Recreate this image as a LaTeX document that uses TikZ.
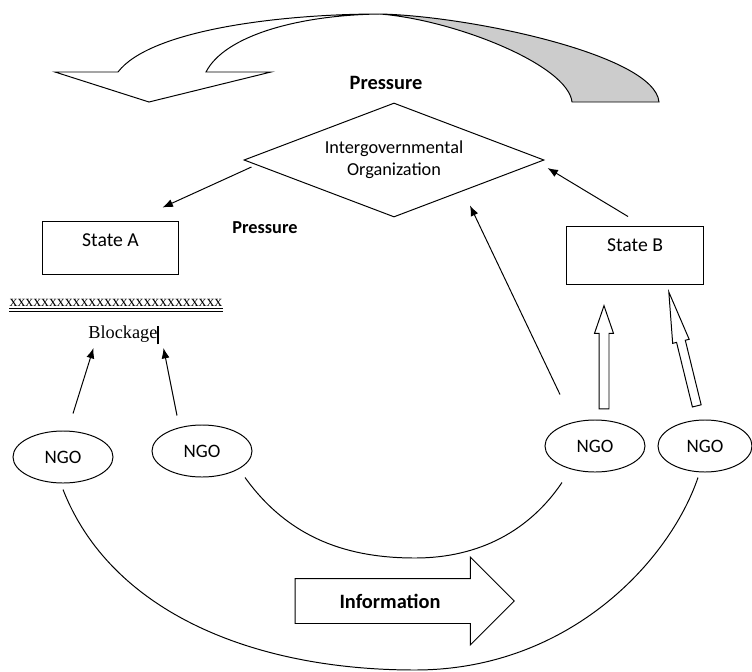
\documentclass[tikz,border=0pt]{standalone}
\usepackage{fontspec}
\setmainfont{Carlito}
\newfontfamily\bookfont{Liberation Serif}
\usetikzlibrary{shapes.geometric,shapes.arrows,arrows.meta}

\begin{document}
\begin{tikzpicture}[x=0.025cm,y=-0.025cm,line width=0.7pt,
	ngo/.style={ellipse,draw=black,minimum width=2.5cm,minimum height=1.3cm,inner sep=0pt,font=\fontsize{13.5}{15}\selectfont},
	statebox/.style={rectangle,draw=black,minimum width=3.4cm,font=\fontsize{14}{16}\selectfont},
	pointer/.style={-{Latex[length=2.6mm,width=2mm]}},
	hollow/.style={single arrow,draw=black,fill=white,inner xsep=0pt,single arrow head indent=0pt},
	bold/.style={font=\bfseries\fontsize{#1}{#1}\selectfont}]
		\useasboundingbox (0,0) rectangle (752,672);

		% twisted arrow on top
		\fill[gray!40] (380,14) .. controls (470,16) and (655,55) .. (659,102) -- (572,102) .. controls (568,65) and (455,20) .. (380,14) -- cycle;
		\draw (55,72) -- (118,72) .. controls (150,30) and (280,14) .. (380,14) .. controls (470,16) and (655,55) .. (659,102) -- (572,102) .. controls (568,65) and (455,20) .. (380,14) .. controls (300,15) and (225,35) .. (206,72) -- (271,72) -- (149,102) -- cycle;
		\node[bold=14.5] (toppress) at (386,83) {Pressure};

		\node[diamond,draw=black,minimum width=7.5cm,minimum height=2.85cm,shape aspect=2.6,inner sep=1pt,align=center,font=\fontsize{13}{15.6}\selectfont] (igo) at (394,160) {Intergovernmental\\Organization};

		\node[statebox,minimum width=3.375cm,minimum height=1.325cm,text depth=0.375cm] (stateA) at (110.5,247.5) {State A};
		\node[statebox,minimum height=1.45cm,text depth=0.5cm] (stateB) at (635,255) {State B};
		\node[bold=13] (midpress) at (265,228) {Pressure};

		\node[font=\bookfont\fontsize{11.2}{13}\selectfont,inner sep=0pt] (bar) at (116,302.5) {xxxxxxxxxxxxxxxxxxxxxxxxxxx};
		\draw[line width=0.5pt] ([shift={(0,2)}]bar.south west) -- ([shift={(0,2)}]bar.south east);
		\draw[line width=0.5pt] ([shift={(0,4.5)}]bar.south west) -- ([shift={(0,4.5)}]bar.south east);
		\node[font=\bookfont\fontsize{13}{15}\selectfont,inner sep=0pt] (block) at (123.5,335) {Blockage\rule[-4pt]{0.8pt}{13.5pt}};

		\node[ngo] (ngo1) at (63,457) {NGO};
		\node[ngo] (ngo2) at (202,451) {NGO};
		\node[ngo] (ngo3) at (595,446) {NGO};
		\node[ngo,minimum width=2.35cm] (ngo4) at (705,446) {NGO};

		\draw[pointer] ([shift={(8,7)}]igo.west) -- ([shift={(-16,-13)}]stateA.north east);
		\draw[pointer] ([shift={(-7,-9)}]stateB.north) -- ([shift={(3,8)}]igo.east);
		\draw[pointer] ([shift={(-35,-25)}]ngo3.north) -- ([shift={(76,-12)}]igo.south);
		\draw[pointer] ([shift={(10,-17)}]ngo1.north) -- ([shift={(-30,3)}]block.south);
		\draw[pointer] ([shift={(-25,-9)}]ngo2.north) -- ([shift={(40,3)}]block.south);

		\node[hollow,rotate=90,minimum height=2.575cm,inner ysep=0.1125cm,single arrow head extend=0.1125cm,single arrow tip angle=38] (upone) at (604,364.5) {};
		\node[hollow,rotate=103.8,minimum height=2.93cm,inner ysep=0.1cm,single arrow head extend=0.1cm,single arrow tip angle=19] (uptwo) at (686,362) {};

		\draw ([shift={(43,0)}]ngo2.south) .. controls (290,540) and (350,558) .. (415,558) .. controls (480,558) and (530,530) .. ([shift={(-33,10)}]ngo3.south);
		\draw ([shift={(0,6)}]ngo1.south) .. controls (110,610) and (250,670) .. (415,670) .. controls (570,670) and (670,560) .. ([shift={(-7,5)}]ngo4.south);

		\node[hollow,minimum height=5.475cm,inner ysep=0.55cm,single arrow head extend=0.5375cm] (infoarrow) at (393.5,601) {};
		\node[bold=14.5] (infotext) at (390,601) {Information};
	\end{tikzpicture}
\end{document}
